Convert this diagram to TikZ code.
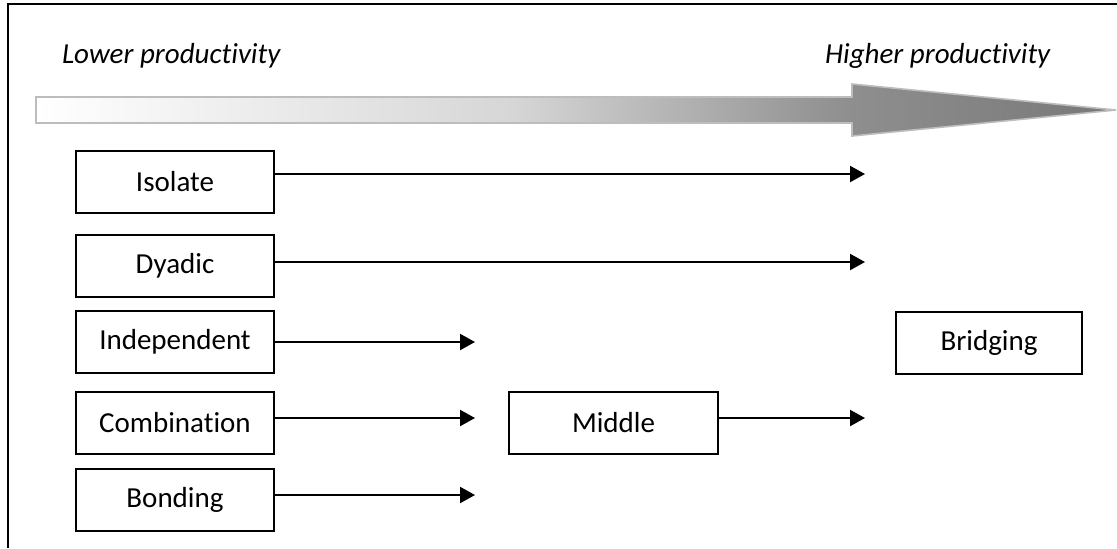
\documentclass[tikz,border=0pt]{standalone}
\usepackage{fontspec}
\setmainfont[RawFeature={-liga;-clig;-dlig;-calt}]{Carlito}
\usetikzlibrary{arrows.meta}

% horizontal grey ramp for the productivity arrow (inner 25bp..75bp spans the shape)
\pgfdeclarehorizontalshading{prodramp}{100bp}{%
  color(0bp)=(white);
  color(25bp)=(white);
  color(47bp)=(black!16);
  color(62.5bp)=(black!44);
  color(75bp)=(black!53);
  color(100bp)=(black!53)}

\definecolor{rampline}{gray}{0.74}

% keep t and i as separate glyphs
\newcommand{\nolig}{\kern0pt\relax}

\begin{document}
\begin{tikzpicture}[x=0.5pt,y=-0.5pt,
  font=\fontsize{14.5}{17}\selectfont,
  stage/.style={draw, line width=1pt, minimum height=31pt, inner sep=0pt},
  narrow/.style={stage, minimum width=99pt},
  flow/.style={line width=1.1pt, -{Triangle[length=7.5pt,width=8pt]}},
  frame/.style={line width=1pt}]

\useasboundingbox (0,0) rectangle (1117,548);

% page frame (top and left edges)
\draw[frame] (8,548) -- (8,3.5) -- (1117,3.5);

% scale labels
\node[anchor=base west, font=\fontsize{14.5}{17}\selectfont\itshape] (lo) at (55,63) {Lower product\nolig ivity};
\node[anchor=base west, font=\fontsize{14.5}{17}\selectfont\itshape] (hi) at (818,63) {Higher product\nolig ivity};

% productivity arrow
\shadedraw[shading=prodramp, draw=rampline, line width=0.8pt]
  (36,97) -- (852,97) -- (852,84) -- (1116,110) -- (852,136) -- (852,123) -- (36,123) -- cycle;

% stages
\node[narrow] (iso) at (175,182) {Isolate};
\node[narrow] (dya) at (175,266) {Dyadic};
\node[narrow] (ind) at (175,342) {Independent};
\node[narrow] (com) at (175,423) {Combinat\nolig ion};
\node[narrow] (bon) at (175,500) {Bonding};
\node[stage, minimum width=104.5pt] (mid) at (613.5,423) {Middle};
\node[stage, minimum width=93pt] (bri) at (989,343) {Bridging};

% arrow end points
\coordinate (isoT) at (865,174);
\coordinate (dyaT) at (865,262);
\coordinate (indT) at (475,342);
\coordinate (comT) at (475,418);
\coordinate (midT) at (865,418);
\coordinate (bonT) at (475,495);

\draw[flow] (iso.east |- isoT) -- (isoT);
\draw[flow] (dya.east |- dyaT) -- (dyaT);
\draw[flow] (ind.east |- indT) -- (indT);
\draw[flow] (com.east |- comT) -- (comT);
\draw[flow] (mid.east |- midT) -- (midT);
\draw[flow] (bon.east |- bonT) -- (bonT);

\end{tikzpicture}
\end{document}
